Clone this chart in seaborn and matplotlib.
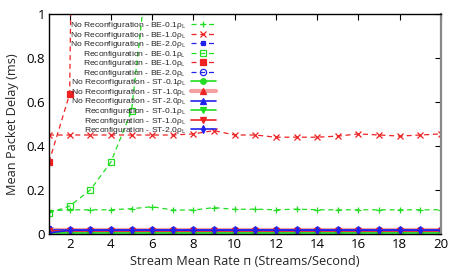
import numpy as np
import pandas as pd
import matplotlib
matplotlib.use("Agg")
import matplotlib.pyplot as plt
from matplotlib.lines import Line2D
from matplotlib import font_manager
import seaborn as sns

sns.set_theme(style="white")
plt.rcParams['font.family'] = ['Open Sans', 'DejaVu Sans']
plt.rcParams['mathtext.fontset'] = 'custom'
plt.rcParams['mathtext.rm'] = 'Open Sans'

_names = {f.name for f in font_manager.fontManager.ttflist}
if 'Liberation Sans Narrow' in _names:
    LEG_FAMILY, LEG_SIZE, LEG_SPACING = 'Liberation Sans Narrow', 7.2, -0.36
else:
    LEG_FAMILY, LEG_SIZE, LEG_SPACING = 'Liberation Sans', 6.1, -0.17

x = list(range(1, 21))

nr_be01 = [0.105, 0.11, 0.11, 0.11, 0.115, 0.124, 0.109, 0.109, 0.12, 0.112,
           0.113, 0.11, 0.113, 0.11, 0.11, 0.11, 0.11, 0.11, 0.11, 0.11]
nr_be10 = [0.45, 0.45, 0.45, 0.45, 0.45, 0.45, 0.45, 0.455, 0.47, 0.45,
           0.45, 0.44, 0.44, 0.44, 0.445, 0.455, 0.45, 0.445, 0.45, 0.455]
nr_be20 = [0.028, 0.02, 0.019, 0.019, 0.019, 0.019, 0.019, 0.019, 0.019, 0.019,
           0.019, 0.019, 0.019, 0.019, 0.019, 0.019, 0.019, 0.019, 0.019, 0.019]
r_be01 = [0.095, 0.127, 0.2, 0.327, 0.56, 1.4]
r_be10 = [0.327, 0.636, 8.0]
r_be20 = [0.02, 0.018, 0.018, 0.018, 0.018, 0.018, 0.018, 0.018, 0.018, 0.018,
          0.018, 0.018, 0.018, 0.018, 0.018, 0.018, 0.018, 0.018, 0.018, 0.018]
nr_st01 = [0.008] * 20
nr_st10 = [0.016] * 20
nr_st20 = [0.018] * 20
r_st01 = [0.006] * 20
r_st10 = [0.013] * 20
r_st20 = [0.005, 0.017, 0.017, 0.017, 0.017, 0.017, 0.017, 0.017, 0.017, 0.017,
          0.017, 0.017, 0.017, 0.017, 0.017, 0.017, 0.017, 0.017, 0.017, 0.017]

labels = [
    r"No Reconfiguration - BE-0.1ρ$_{\mathrm{L}}$",
    r"No Reconfiguration - BE-1.0ρ$_{\mathrm{L}}$",
    r"No Reconfiguration - BE-2.0ρ$_{\mathrm{L}}$",
    r"Reconfiguration - BE-0.1ρ$_{\mathrm{L}}$",
    r"Reconfiguration - BE-1.0ρ$_{\mathrm{L}}$",
    r"Reconfiguration - BE-2.0ρ$_{\mathrm{L}}$",
    r"No Reconfiguration - ST-0.1ρ$_{\mathrm{L}}$",
    r"No Reconfiguration - ST-1.0ρ$_{\mathrm{L}}$",
    r"No Reconfiguration - ST-2.0ρ$_{\mathrm{L}}$",
    r"Reconfiguration - ST-0.1ρ$_{\mathrm{L}}$",
    r"Reconfiguration - ST-1.0ρ$_{\mathrm{L}}$",
    r"Reconfiguration - ST-2.0ρ$_{\mathrm{L}}$",
]
series = [nr_be01, nr_be10, nr_be20, r_be01, r_be10, r_be20,
          nr_st01, nr_st10, nr_st20, r_st01, r_st10, r_st20]

G = "#22dd22"
R = "#ee2222"
B = "#2222ee"
LR = "#f4a0a0"
dash = (4, 3)
styles = [
    dict(color=G, ls=(0, dash), marker="+", ms=5, mfc="none", lw=0.9),
    dict(color=R, ls=(0, dash), marker="x", ms=4, mfc="none", lw=0.9),
    dict(color=B, ls=(0, dash), marker="s", ms=3, lw=0.9),
    dict(color=G, ls=(0, dash), marker="s", ms=5, mfc="none", lw=0.9),
    dict(color=R, ls=(0, dash), marker="s", ms=4.5, lw=0.9),
    dict(color=B, ls=(0, dash), marker="o", ms=4.5, mfc="none", lw=0.9),
    dict(color=G, ls="-", marker="o", ms=4, lw=1.2),
    dict(color=LR, ls="-", marker="^", ms=4, lw=3, mfc=R, mec=R),
    dict(color=B, ls="-", marker="^", ms=4, lw=1.2),
    dict(color=G, ls="-", marker="v", ms=4, lw=1.2),
    dict(color=R, ls="-", marker="v", ms=4, lw=1.2),
    dict(color=B, ls="-", marker="d", ms=4, lw=1.2),
]

fig = plt.figure(figsize=(4.57, 2.74), dpi=100)
ax = fig.add_axes([49/457, 1-234/274, (441-49)/457, (234-14)/274])

handles = []
for lab, ys, st in zip(labels, series, styles):
    xs = x[:len(ys)]
    df = pd.DataFrame({"x": xs, "y": ys})
    sns.lineplot(data=df, x="x", y="y", ax=ax, color=st["color"],
                 linestyle=st["ls"], linewidth=st["lw"], marker=st["marker"],
                 markersize=st["ms"],
                 markerfacecolor=st.get("mfc", st["color"]),
                 markeredgecolor=st.get("mec", st["color"]),
                 markeredgewidth=0.9, legend=False)
    handles.append(Line2D([], [], color=st["color"], linestyle=st["ls"],
                          linewidth=st["lw"], marker=st["marker"],
                          markersize=st["ms"],
                          markerfacecolor=st.get("mfc", st["color"]),
                          markeredgecolor=st.get("mec", st["color"]),
                          markeredgewidth=0.9))

ax.set_xlim(1, 20)
ax.set_ylim(0, 1)
ax.set_xticks(range(2, 21, 2))
ax.set_yticks([0, 0.2, 0.4, 0.6, 0.8, 1.0])
ax.set_yticklabels(["0", "0.2", "0.4", "0.6", "0.8", "1"])
ax.tick_params(direction="in", length=4, width=0.8, labelsize=9.5, colors="black",
               top=True, right=True, pad=3)
for s in ["left", "bottom", "top"]:
    ax.spines[s].set_color("black")
    ax.spines[s].set_linewidth(1.0)
ax.spines["right"].set_color("#888888")
ax.spines["right"].set_linewidth(1.6)
ax.set_xlabel("Stream Mean Rate п (Streams/Second)", fontsize=9.2, labelpad=3)
ax.set_ylabel("Mean Packet Delay (ms)", fontsize=9.2, labelpad=5)

leg = ax.legend(handles, labels, loc="upper right",
                bbox_to_anchor=(216/457, 1-20/274), bbox_transform=fig.transFigure,
                frameon=False, markerfirst=False,
                prop={"family": LEG_FAMILY, "size": LEG_SIZE},
                handlelength=3.0, handletextpad=0.5, labelspacing=LEG_SPACING,
                borderpad=0, borderaxespad=0)
leg.set_zorder(5)

fig.savefig("out.png", dpi=100)
